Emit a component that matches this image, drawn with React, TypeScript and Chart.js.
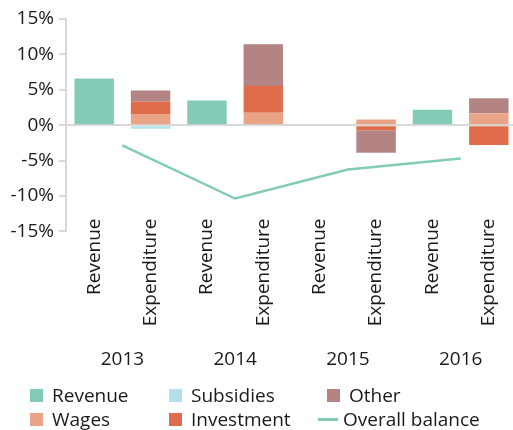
import React, { useEffect, useRef } from 'react';
import { Chart, registerables } from 'chart.js';

Chart.register(...registerables);

const categories = ['Revenue', 'Expenditure', 'Revenue', 'Expenditure', 'Revenue', 'Expenditure', 'Revenue', 'Expenditure'];
const years = ['2013', '2014', '2015', '2016'];
const revenue = [6.6, null, 3.5, null, 0, null, 2.2, null];
const subsidies = [null, -0.5, null, 0, null, 0, null, 0];
const wages = [null, 1.6, null, 1.75, null, 0.8, null, 1.7];
const investment = [null, 1.7, null, 3.8, null, -0.7, null, -2.8];
const other = [null, 1.6, null, 5.9, null, -3.2, null, 2.1];
const balance = [-2.85, -10.35, -6.25, -4.7];
const yTicks = [-15, -10, -5, 0, 5, 10, 15];

const C_REV = '#83cbb6';
const C_SUB = '#b3e1ea';
const C_OTH = '#b48383';
const C_WAG = '#e9a386';
const C_INV = '#df6d4b';
const FONT = "'Open Sans', sans-serif";
const TXT = '#1a1a1a';
const FS = 19;

const legendItems = [
  { label: 'Revenue', color: C_REV, kind: 'box', col: 0, row: 0 },
  { label: 'Subsidies', color: C_SUB, kind: 'box', col: 1, row: 0 },
  { label: 'Other', color: C_OTH, kind: 'box', col: 2, row: 0 },
  { label: 'Wages', color: C_WAG, kind: 'box', col: 0, row: 1 },
  { label: 'Investment', color: C_INV, kind: 'box', col: 1, row: 1 },
  { label: 'Overall balance', color: C_REV, kind: 'line', col: 2, row: 1 },
];
const colX = [30, 169, 327];
const rowY = [389, 413];

const liftLabels = {
  id: 'liftLabels',
  afterLayout(chart: any) {
    const s = chart.scales.x;
    if (s) s.top = s.top - 13;
  },
};

export default function App() {
  const ref = useRef<HTMLCanvasElement>(null);
  useEffect(() => {
    document.body.style.margin = '0';
    const chart = new Chart(ref.current!, {
      type: 'bar',
      data: {
        labels: categories,
        datasets: [
          { label: 'Revenue', data: revenue, backgroundColor: C_REV },
          { label: 'Subsidies', data: subsidies, backgroundColor: C_SUB },
          { label: 'Wages', data: wages, backgroundColor: C_WAG },
          { label: 'Investment', data: investment, backgroundColor: C_INV },
          { label: 'Other', data: other, backgroundColor: C_OTH },
          {
            type: 'line',
            label: 'Overall balance',
            data: balance,
            xAxisID: 'x2',
            borderColor: C_REV,
            backgroundColor: C_REV,
            borderWidth: 2.5,
            pointRadius: 0,
            tension: 0,
          } as any,
        ],
      },
      plugins: [liftLabels],
      options: {
        animation: false,
        responsive: false,
        maintainAspectRatio: false,
        layout: { padding: { top: 19, right: 0, bottom: 4, left: 0 } },
        datasets: { bar: { categoryPercentage: 1, barPercentage: 0.7, grouped: false } },
        plugins: { legend: { display: false }, tooltip: { enabled: false } },
        scales: {
          x: {
            stacked: true,
            grid: { display: false, drawTicks: false },
            border: { display: false },
            ticks: {
              minRotation: 90,
              maxRotation: 90,
              autoSkip: false,
              padding: 0,
              font: { family: FONT, size: FS },
              color: TXT,
            },
          },
          x2: {
            type: 'category',
            labels: years,
            position: 'bottom',
            offset: true,
            grid: { display: false, drawTicks: false },
            border: { display: false },
            ticks: { padding: 9, font: { family: FONT, size: FS }, color: TXT },
          },
          y: {
            stacked: true,
            min: -15,
            max: 15,
            afterBuildTicks: (s: any) => {
              s.ticks = yTicks.map((v) => ({ value: v }));
            },
            afterFit: (s: any) => {
              s.width = 66;
            },
            ticks: {
              padding: 5,
              font: { family: FONT, size: FS },
              color: TXT,
              callback: (v: any) => v + '%',
            },
            grid: {
              color: (ctx: any) => (ctx.tick && ctx.tick.value === 0 ? '#d9d9d9' : 'rgba(0,0,0,0)'),
              tickColor: '#d9d9d9',
              tickLength: 7,
              lineWidth: 2,
            },
            border: { color: '#d9d9d9', width: 2 },
          },
        },
      } as any,
    });
    return () => chart.destroy();
  }, []);

  return (
    <div style={{ position: 'relative', width: 513, height: 430, overflow: 'hidden', background: '#fff' }}>
      <canvas ref={ref} width={517} height={384} style={{ position: 'absolute', left: 0, top: 0, width: 517, height: 384 }} />
      {legendItems.map((it) => (
        <div key={it.label} style={{ position: 'absolute', left: colX[it.col], top: rowY[it.row] - 6, height: 24, display: 'flex', alignItems: 'center', fontFamily: FONT, fontSize: 19, color: TXT, whiteSpace: 'nowrap' }}>
          {it.kind === 'box' ? (
            <span style={{ display: 'inline-block', width: 13, height: 13, background: it.color, marginRight: 9 }} />
          ) : (
            <span style={{ display: 'inline-block', width: 20, height: 3, background: it.color, marginLeft: -9, marginRight: 5 }} />
          )}
          <span>{it.label}</span>
        </div>
      ))}
    </div>
  );
}
